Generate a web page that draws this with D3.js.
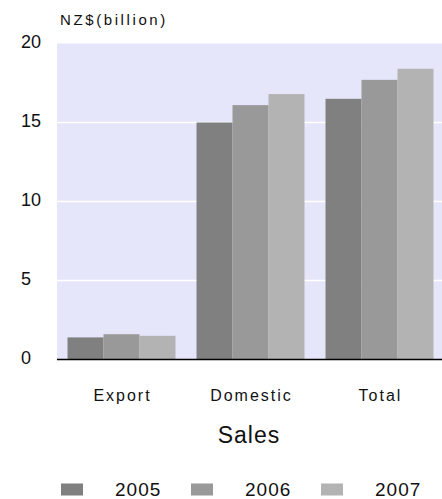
<!DOCTYPE html>
<html>
<head>
<meta charset="utf-8">
<script src="https://cdn.jsdelivr.net/npm/d3@7"></script>
<style>
  html, body { margin: 0; padding: 0; background: #fff; }
  svg { display: block; font-family: "Liberation Sans", Arial, sans-serif; }
</style>
</head>
<body>
<svg id="chart" width="442" height="499"></svg>
<script>
const categories = ["Export", "Domestic", "Total"];
const years = ["2005", "2006", "2007"];
const values2005 = [1.4, 15.0, 16.5];
const values2006 = [1.6, 16.1, 17.7];
const values2007 = [1.5, 16.8, 18.4];
const yTicks = [0, 5, 10, 15, 20];
const colors = ["#808080", "#999999", "#b3b3b3"];
const seriesValues = [values2005, values2006, values2007];

const svg = d3.select("#chart");
const plotLeft = 57, plotRight = 444, plotTop = 43.5, plotBottom = 359.5;

const x = d3.scaleBand().domain(categories).range([plotLeft, plotRight])
  .paddingInner(0.163).paddingOuter(0.0815);
const xs = d3.scaleBand().domain(years).range([0, x.bandwidth()]).padding(0);
const y = d3.scaleLinear().domain([0, 20]).range([plotBottom, plotTop]);

// plot background
svg.append("rect").attr("x", plotLeft).attr("y", y(20)).attr("width", plotRight - plotLeft)
  .attr("height", plotBottom - y(20)).attr("fill", "#e6e6fa");

// gridlines
svg.append("g").selectAll("line").data(yTicks.filter(t => t > 0 && t < 20)).join("line")
  .attr("x1", plotLeft).attr("x2", plotRight).attr("y1", d => y(d)).attr("y2", d => y(d))
  .attr("stroke", "#ffffff").attr("stroke-width", 1.5);

// bars
const rows = categories.map((c, i) => ({ c, vals: years.map((yr, j) => ({ yr, v: seriesValues[j][i], j })) }));
svg.append("g").selectAll("g").data(rows).join("g")
  .attr("transform", d => `translate(${x(d.c)},0)`)
  .selectAll("rect").data(d => d.vals).join("rect")
  .attr("x", d => xs(d.yr)).attr("width", xs.bandwidth())
  .attr("y", d => y(d.v)).attr("height", d => y(0) - y(d.v))
  .attr("fill", d => colors[d.j]);

// x axis line
svg.append("line").attr("x1", plotLeft).attr("x2", plotRight).attr("y1", plotBottom).attr("y2", plotBottom)
  .attr("stroke", "#000").attr("stroke-width", 1.5);

// y tick labels
svg.append("g").selectAll("text").data(yTicks).join("text")
  .attr("x", 21).attr("y", d => y(d) + 4.5)
  .attr("font-size", 18).attr("fill", "#111").text(d => d);

// y unit label
svg.append("text").attr("x", 60).attr("y", 25).attr("font-size", 15)
  .attr("letter-spacing", 2.6).attr("fill", "#111").text("NZ$(billion)");

// category labels
svg.append("g").selectAll("text").data(categories).join("text")
  .attr("x", d => x(d) + x.bandwidth() / 2 + 1).attr("y", 401)
  .attr("text-anchor", "middle").attr("font-size", 16).attr("letter-spacing", 2)
  .attr("fill", "#111").text(d => d);

// axis title
svg.append("text").attr("x", 249).attr("y", 443).attr("text-anchor", "middle")
  .attr("font-size", 23).attr("letter-spacing", 1).attr("fill", "#111").text("Sales");

// legend
const lg = svg.append("g").selectAll("g").data(years).join("g")
  .attr("transform", (d, i) => `translate(${61 + i * 130},0)`);
lg.append("rect").attr("x", 0).attr("y", 483.5).attr("width", 22).attr("height", 12)
  .attr("fill", (d, i) => colors[i]);
lg.append("text").attr("x", 54).attr("y", 496).attr("font-size", 19).attr("letter-spacing", 1)
  .attr("fill", "#111").text(d => d);
</script>
</body>
</html>
